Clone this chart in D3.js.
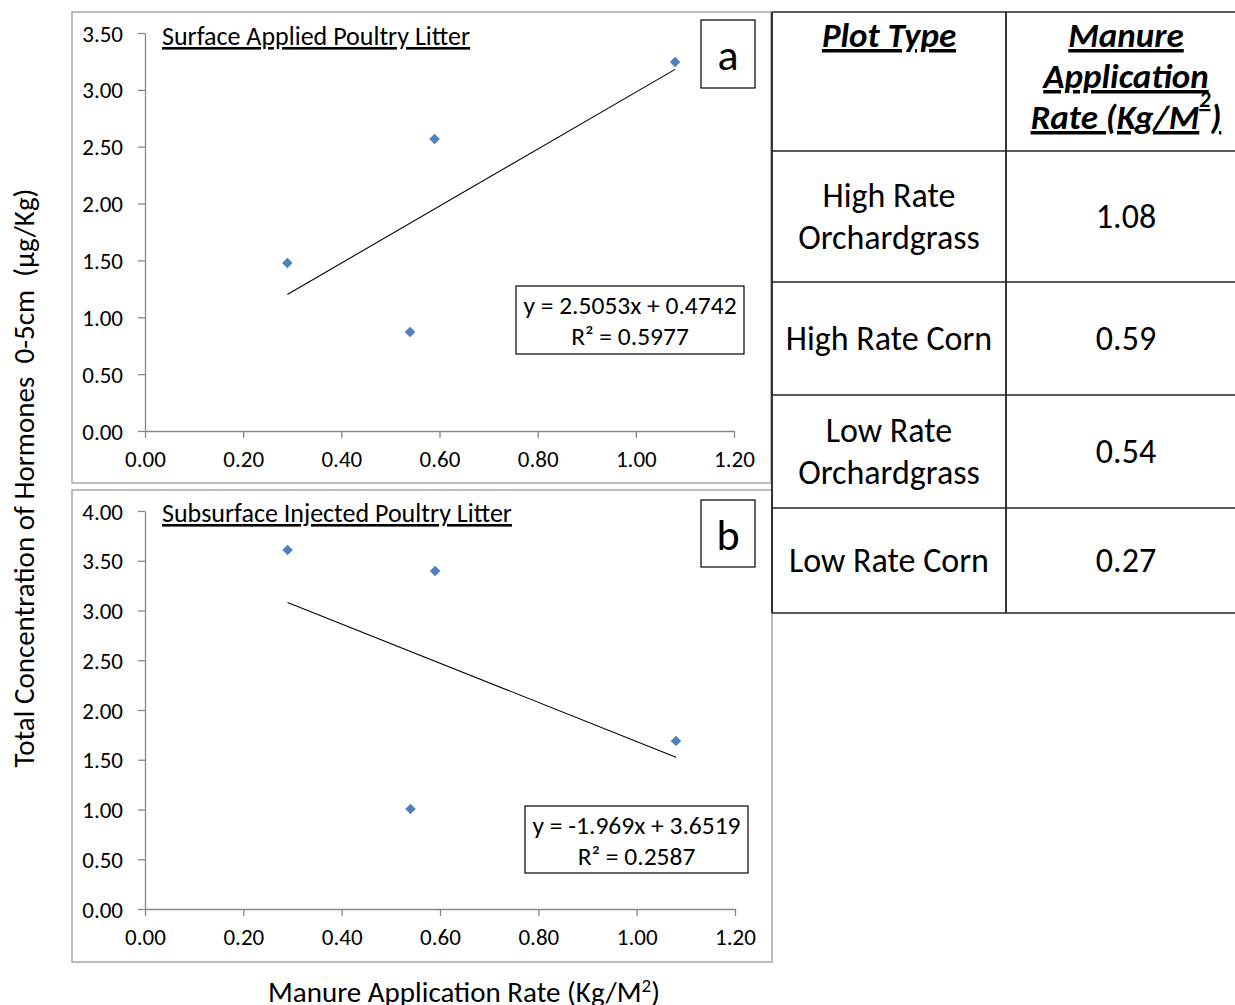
<!DOCTYPE html>
<html>
<head>
<meta charset="utf-8">
<script src="https://cdn.jsdelivr.net/npm/d3@7"></script>
<style>
  html, body { margin: 0; padding: 0; background: #fff; }
  svg { display: block; font-family: Carlito, Lato, "Open Sans", sans-serif; }
  text { white-space: pre; }
</style>
</head>
<body>
<svg id="chart" width="1235" height="1005"></svg>
<script>
// Application rates (kg/m2) and hormone totals (ug/kg)
const ratesSurface = [0.29, 0.54, 0.59, 1.08];
const hormonesSurface = [1.477, 0.870, 2.568, 3.245];
const ratesInjected = [0.29, 0.54, 0.59, 1.08];
const hormonesInjected = [3.608, 1.005, 3.397, 1.688];

// Linear fits as reported
const fitSurface = { slope: 2.5053, intercept: 0.4742, r2: "0.5977", eq: "y = 2.5053x + 0.4742" };
const fitInjected = { slope: -1.969, intercept: 3.6519, r2: "0.2587", eq: "y = -1.969x + 3.6519" };

const xTicks = [0, 0.2, 0.4, 0.6, 0.8, 1.0, 1.2];
const yTicksSurface = [0, 0.5, 1.0, 1.5, 2.0, 2.5, 3.0, 3.5];
const yTicksInjected = [0, 0.5, 1.0, 1.5, 2.0, 2.5, 3.0, 3.5, 4.0];

// Plot type table
const plotTypes = [["High Rate", "Orchardgrass"], ["High Rate Corn"], ["Low Rate", "Orchardgrass"], ["Low Rate Corn"]];
const plotRates = ["1.08", "0.59", "0.54", "0.27"];

const svg = d3.select("#chart");
const axisColor = "#868686";
const markerColor = "#4f81bd";

function panel(cfg) {
  const g = svg.append("g");
  // outer frame
  g.append("rect").attr("x", cfg.frame[0]).attr("y", cfg.frame[1])
    .attr("width", cfg.frame[2]).attr("height", cfg.frame[3])
    .attr("fill", "#fff").attr("stroke", "#a6a6a6").attr("stroke-width", 1.5);

  const x = d3.scaleLinear().domain([0, 1.2]).range([cfg.x0, cfg.x1]);
  const y = d3.scaleLinear().domain([0, cfg.yMax]).range([cfg.y0, cfg.y1]);

  const yAxis = g.append("g").attr("transform", `translate(${cfg.x0},0)`)
    .call(d3.axisLeft(y).tickValues(cfg.yTicks).tickFormat(d3.format(".2f")).tickSize(7).tickPadding(15).tickSizeOuter(0));
  const xAxis = g.append("g").attr("transform", `translate(0,${cfg.y0})`)
    .call(d3.axisBottom(x).tickValues(xTicks).tickFormat(d3.format(".2f")).tickSize(7).tickPadding(13).tickSizeOuter(0));
  [yAxis, xAxis].forEach(a => {
    a.select(".domain").attr("stroke", axisColor).attr("stroke-width", 1.3);
    a.selectAll(".tick line").attr("stroke", axisColor).attr("stroke-width", 1.3);
    a.selectAll(".tick text").attr("fill", "#000").style("font-size", "23px")
      .style("font-family", "Carlito, Lato, 'Open Sans', sans-serif");
  });
  yAxis.selectAll(".tick text").attr("dy", "0.35em");

  // title
  g.append("text").attr("x", cfg.x0 + 17).attr("y", cfg.titleY)
    .attr("font-size", 26).style("text-decoration", "underline").text(cfg.title);

  // trend line over the data range
  const xs = cfg.xs;
  const xMin = d3.min(xs), xMax = d3.max(xs);
  g.append("line")
    .attr("x1", x(xMin)).attr("y1", y(cfg.fit.slope * xMin + cfg.fit.intercept))
    .attr("x2", x(xMax)).attr("y2", y(cfg.fit.slope * xMax + cfg.fit.intercept))
    .attr("stroke", "#000").attr("stroke-width", 1.1);

  // diamond markers
  g.selectAll("path.pt").data(xs.map((v, i) => [v, cfg.ys[i]])).join("path")
    .attr("class", "pt")
    .attr("transform", d => `translate(${x(d[0])},${y(d[1])}) rotate(45)`)
    .attr("d", d3.symbol().type(d3.symbolSquare).size(56))
    .attr("fill", markerColor);

  // equation box
  const eb = cfg.eqBox;
  g.append("rect").attr("x", eb[0]).attr("y", eb[1]).attr("width", eb[2]).attr("height", eb[3])
    .attr("fill", "#fff").attr("stroke", "#000").attr("stroke-width", 1.2);
  g.append("text").attr("x", eb[0] + eb[2] / 2).attr("y", eb[1] + 28).attr("text-anchor", "middle")
    .attr("font-size", 25.5).text(cfg.fit.eq);
  g.append("text").attr("x", eb[0] + eb[2] / 2).attr("y", eb[1] + 59).attr("text-anchor", "middle")
    .attr("font-size", 25.5).text("R² = " + cfg.fit.r2);

  // panel letter
  const lb = cfg.letterBox;
  g.append("rect").attr("x", lb[0]).attr("y", lb[1]).attr("width", lb[2]).attr("height", lb[3])
    .attr("fill", "#fff").attr("stroke", "#000").attr("stroke-width", 1.2);
  g.append("text").attr("x", lb[0] + lb[2] / 2).attr("y", lb[1] + 50).attr("text-anchor", "middle")
    .attr("font-size", 44).text(cfg.letter);
}

panel({
  frame: [72, 12, 699, 471], x0: 145, x1: 734, y0: 431, y1: 33, yMax: 3.5,
  yTicks: yTicksSurface, title: "Surface Applied Poultry Litter", titleY: 45,
  xs: ratesSurface, ys: hormonesSurface, fit: fitSurface,
  eqBox: [516, 286, 228, 68], letterBox: [701, 20, 54, 68], letter: "a"
});
panel({
  frame: [72, 490, 700, 472], x0: 145, x1: 735, y0: 909, y1: 511, yMax: 4.0,
  yTicks: yTicksInjected, title: "Subsurface Injected Poultry Litter", titleY: 522,
  xs: ratesInjected, ys: hormonesInjected, fit: fitInjected,
  eqBox: [525, 806, 223, 67], letterBox: [701, 500, 54, 67], letter: "b"
});

// axis titles
svg.append("text").attr("transform", "translate(34,478) rotate(-90)").attr("text-anchor", "middle")
  .attr("font-size", 29).attr("fill", "#000").text("Total Concentration of Hormones  0-5cm  (µg/Kg)");
const xt = svg.append("text").attr("x", 464).attr("y", 1002).attr("text-anchor", "middle")
  .attr("font-size", 29).attr("fill", "#000");
xt.append("tspan").text("Manure Application Rate (Kg/M");
xt.append("tspan").attr("font-size", 19).attr("dy", -10).text("2");
xt.append("tspan").attr("dy", 10).text(")");

// table
const tbl = svg.append("g");
const colX = [772, 1006, 1240];
const rowY = [12, 151, 282, 395, 508, 613];
const lineColor = "#222";
rowY.forEach(yv => tbl.append("line").attr("x1", colX[0]).attr("x2", 1235).attr("y1", yv).attr("y2", yv)
  .attr("stroke", lineColor).attr("stroke-width", 1.6));
[colX[0], colX[1]].forEach(xv => tbl.append("line").attr("x1", xv).attr("x2", xv)
  .attr("y1", rowY[0]).attr("y2", rowY[rowY.length - 1]).attr("stroke", lineColor).attr("stroke-width", 1.8));

const c1 = (colX[0] + colX[1]) / 2;
const hdr = { "font-size": 35, "font-weight": "bold", "font-style": "italic" };
function hText(x, y, t) {
  const e = tbl.append("text").attr("x", x).attr("y", y).attr("text-anchor", "middle")
    .style("text-decoration", "underline");
  Object.entries(hdr).forEach(([k, v]) => e.attr(k, v));
  return e.text(t);
}
hText(c1, 47, "Plot Type");
hText(1126, 47, "Manure");
hText(1126, 88, "Application");
const rt = tbl.append("text").attr("x", 1126).attr("y", 129).attr("text-anchor", "middle")
  .style("text-decoration", "underline");
Object.entries(hdr).forEach(([k, v]) => rt.attr(k, v));
rt.append("tspan").text("Rate (Kg/M");
rt.append("tspan").attr("font-size", 22).attr("dy", -22).text("2");
rt.append("tspan").attr("dy", 22).text(")");

plotTypes.forEach((lines, i) => {
  const mid = (rowY[i + 1] + rowY[i + 2]) / 2;
  const n = lines.length;
  lines.forEach((ln, j) => {
    tbl.append("text").attr("x", c1).attr("y", mid + (j - (n - 1) / 2) * 42).attr("dy", "0.35em")
      .attr("text-anchor", "middle").attr("font-size", 34).text(ln);
  });
  tbl.append("text").attr("x", 1126).attr("y", mid).attr("dy", "0.35em")
    .attr("text-anchor", "middle").attr("font-size", 34).text(plotRates[i]);
});
</script>
</body>
</html>
